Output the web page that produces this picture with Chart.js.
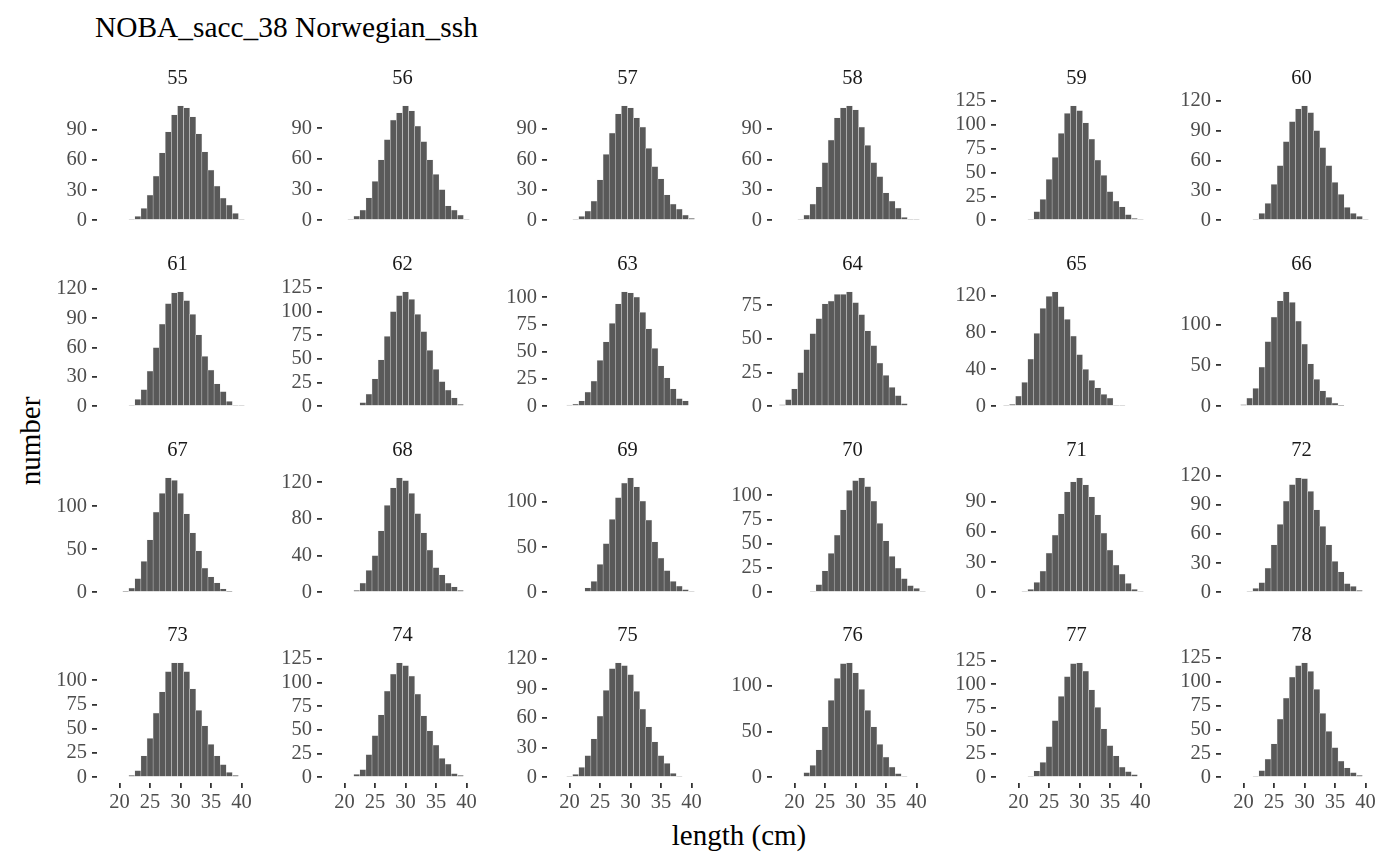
<!DOCTYPE html>
<html><head><meta charset="utf-8">
<script src="https://cdn.jsdelivr.net/npm/chart.js@4.4.1/dist/chart.umd.min.js"></script>
<style>
body{margin:0;background:#fff;width:1400px;height:865px;position:relative;overflow:hidden;font-family:'Liberation Serif','Times New Roman',serif}
canvas{position:absolute}
.t{position:absolute;white-space:nowrap;color:#000;line-height:1}
#title{left:95px;top:13px;font-size:29.4px}
#xt{left:739px;top:821px;font-size:29px;transform:translateX(-50%)}
#yt{left:30px;top:441px;font-size:29px;transform:translate(-50%,-50%) rotate(-90deg)}
</style></head><body>
<div class="t" id="title">NOBA_sacc_38 Norwegian_ssh</div>
<div class="t" id="xt">length (cm)</div>
<div class="t" id="yt">number</div>
<script>
// ---- data ----
const years = [55,56,57,58,59,60,61,62,63,64,65,66,67,68,69,70,71,72,73,74,75,76,77,78];
// first length bin (cm) of each panel
const binStart = [22,21,21,21,22,22, 22,23,20,18,18,20, 21,22,23,23,21,21, 22,22,20,22,22,22];
const n55 = [1,4,12,25,44,67,88,105,114,112,103,86,68,50,34,22,15,7,1];
const n56 = [1,4,10,22,38,59,79,98,105,112,107,92,77,59,45,30,14,10,5,1];
const n57 = [1,4,9,19,40,65,86,105,113,111,101,92,71,53,41,25,16,11,5,2];
const n58 = [1,5,16,33,57,79,101,111,113,109,92,74,57,43,27,19,12,3,1,1];
const n59 = [1,9,22,43,66,91,112,120,115,102,85,63,47,30,20,14,6,2,1];
const n60 = [1,7,17,36,55,79,99,112,115,108,90,73,55,38,26,13,7,4,1];
const n61 = [1,7,17,36,60,84,105,116,117,108,94,73,51,37,23,15,5,1,1];
const n62 = [4,13,29,49,74,100,117,121,113,97,79,59,39,26,17,9,2];
const n63 = [1,2,5,13,23,42,59,76,94,105,104,100,86,71,53,37,26,16,7,5];
const n64 = [1,5,13,25,42,54,65,76,78,83,83,85,77,68,56,45,32,23,14,8,2];
const n65 = [1,2,11,26,51,79,106,119,124,108,94,76,56,40,28,20,13,9,1,1];
const n66 = [2,10,22,48,79,109,129,140,127,104,76,52,33,19,11,4,1];
const n67 = [1,5,16,36,61,93,115,133,130,115,91,69,48,28,18,11,4,1];
const n68 = [2,10,24,40,67,95,114,125,122,108,86,65,46,27,19,10,6,2];
const n69 = [5,12,31,54,81,105,121,127,117,101,80,56,38,24,12,7,3,1];
const n70 = [1,8,22,40,59,85,105,115,118,109,94,71,53,37,25,14,7,4,1];
const n71 = [1,3,10,21,39,57,78,100,110,114,107,95,77,59,42,27,18,9,3,1];
const n72 = [1,4,10,25,49,70,94,111,118,117,104,85,68,49,32,21,9,6,2];
const n73 = [2,7,22,40,66,88,109,118,118,109,91,69,53,34,22,13,5,2];
const n74 = [3,8,24,44,66,91,109,121,118,107,88,65,49,34,20,14,4,2];
const n75 = [1,3,10,22,39,62,88,110,116,113,104,87,69,51,36,22,14,4,1];
const n76 = [5,13,30,55,84,108,124,125,114,96,73,55,36,22,11,4,1];
const n77 = [1,7,16,33,61,87,108,122,123,114,94,75,52,34,23,11,6,3];
const n78 = [1,7,19,35,61,83,105,117,120,111,92,67,48,31,17,10,5,2];
const counts = [n55,n56,n57,n58,n59,n60,n61,n62,n63,n64,n65,n66,n67,n68,n69,n70,n71,n72,n73,n74,n75,n76,n77,n78];
// y tick labels per panel
const t30 = [0,30,60,90], t30b = [0,30,60,90,120], t25 = [0,25,50,75,100,125], t25b = [0,25,50,75,100];
const t25c = [0,25,50,75], t40 = [0,40,80,120], t50 = [0,50,100];
const yTicks = [t30,t30,t30,t30,t25,t30b, t30b,t25,t25b,t25c,t40,t50, t50,t40,t50,t25b,t30,t30b, t25b,t25,t30b,t50,t25,t25];
const xTicks = [20,25,30,35,40];
const xRange = [16.3, 42.7];

// ---- layout ----
const FONT = "'Liberation Serif','Times New Roman',serif";
const YAW = 64, PW = 161, PH = 126.3, STRIP = 40, XAH = 36, PADB = 20;
const COL0 = 97.4, COLSTEP = 224.75, ROW0 = 100.2, ROWSTEP = 185.7;

years.forEach((yr, k) => {
  const r = Math.floor(k / 6), c = k % 6;
  const last = r === 3;
  const cv = document.createElement('canvas');
  const w = YAW + PW + 6;
  const h = STRIP + PH + (last ? XAH : PADB);
  cv.width = w; cv.height = h;
  cv.style.left = (COL0 + COLSTEP * c - YAW) + 'px';
  cv.style.top = (ROW0 + ROWSTEP * r - STRIP) + 'px';
  document.body.appendChild(cv);
  const vals = counts[k];
  const ymax = Math.max(...vals);
  new Chart(cv, {
    type: 'bar',
    data: { datasets: [{
      data: vals.map((v, i) => ({ x: binStart[k] + i, y: v })),
      backgroundColor: '#595959', borderColor: 'rgba(230,230,230,0.9)', borderWidth: 0.5,
      barPercentage: 1, categoryPercentage: 1
    }]},
    options: {
      responsive: false, animation: false, devicePixelRatio: 1,
      layout: { padding: { left: 0, right: 6, top: 0, bottom: last ? 0 : PADB } },
      plugins: {
        legend: { display: false }, tooltip: { enabled: false },
        title: { display: true, text: String(yr), fullSize: false, color: '#1a1a1a',
          font: { family: FONT, size: 20.5, weight: 'normal', lineHeight: 1.2 },
          padding: { top: 6.7, bottom: STRIP - 24.6 - 6.7 } }
      },
      scales: {
        x: { type: 'linear', min: xRange[0], max: xRange[1], display: last, offset: false,
          afterBuildTicks: s => { s.ticks = xTicks.map(v => ({ value: v })); },
          afterFit: s => { if (last) s.height = XAH; },
          grid: { offset: false, drawOnChartArea: false, drawTicks: true, tickLength: 5, color: '#333333', lineWidth: 1.8 },
          border: { display: false },
          ticks: { font: { family: FONT, size: 20.5 }, color: '#4d4d4d', padding: 2, maxRotation: 0, autoSkip: false }
        },
        y: { type: 'linear', min: -0.05 * ymax, max: 1.05 * ymax,
          afterBuildTicks: s => { s.ticks = yTicks[k].map(v => ({ value: v })); },
          afterFit: s => { s.width = YAW; },
          grid: { offset: false, drawOnChartArea: false, drawTicks: true, tickLength: 5, color: '#333333', lineWidth: 1.8 },
          border: { display: false },
          ticks: { font: { family: FONT, size: 20.5 }, color: '#4d4d4d', padding: 5, autoSkip: false }
        }
      }
    }
  });
});
</script>
</body></html>
